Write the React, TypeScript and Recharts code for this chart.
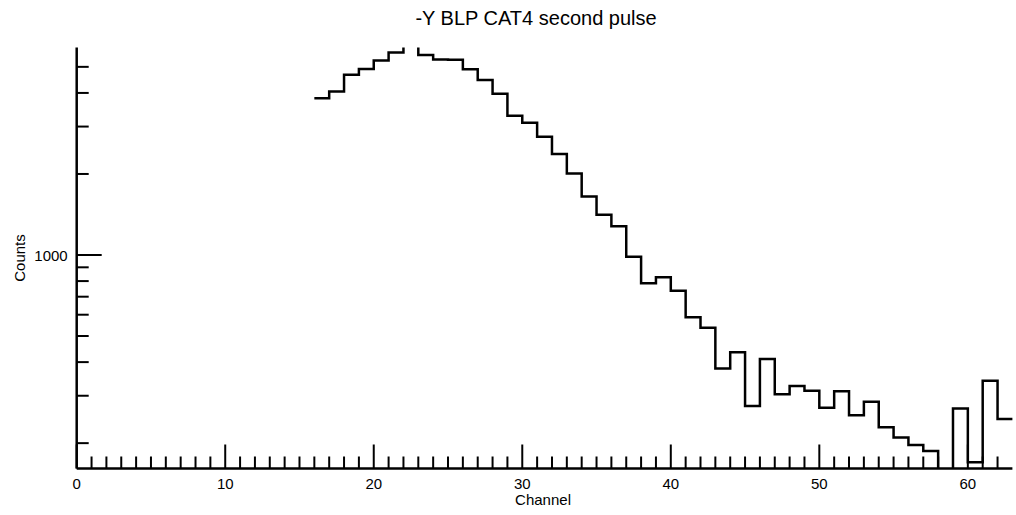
import { LineChart, Line, XAxis, YAxis, Label } from "recharts";

const channels = [
  16, 17, 18, 19, 20, 21, 22, 23, 24, 25, 26, 27, 28, 29, 30, 31,
  32, 33, 34, 35, 36, 37, 38, 39, 40, 41, 42, 43, 44, 45, 46, 47,
  48, 49, 50, 51, 52, 53, 54, 55, 56, 57, 58, 59, 60, 61, 62, 63,
];

// last entry repeats channel 62 so the final step reaches the edge
const counts = [
  3820, 4050, 4670, 4910, 5280, 5650, 6300, 5530, 5330, 5310, 4900, 4470, 3970, 3290, 3100, 2750,
  2370, 2010, 1650, 1410, 1280, 985, 785, 826, 737, 587, 537, 379, 435, 275, 411, 304,
  326, 313, 271, 312, 254, 285, 229, 210, 197, 187, 150, 269, 170, 341, 246, 246,
];

const xTicks = [
  0, 1, 2, 3, 4, 5, 6, 7, 8, 9, 10, 11, 12, 13, 14, 15, 16, 17, 18, 19, 20,
  21, 22, 23, 24, 25, 26, 27, 28, 29, 30, 31, 32, 33, 34, 35, 36, 37, 38, 39, 40,
  41, 42, 43, 44, 45, 46, 47, 48, 49, 50, 51, 52, 53, 54, 55, 56, 57, 58, 59, 60,
  61, 62,
];
const xLabelled = [0, 10, 20, 30, 40, 50, 60];

const yTicks = [200, 300, 400, 500, 600, 700, 800, 900, 1000, 2000, 3000, 4000, 5000];
const yLabelled = [1000];

const data = channels.map((ch, i) => ({ ch, counts: counts[i] }));

const FONT = '"Liberation Sans", Arial, Helvetica, sans-serif';

function XTick(props: any) {
  const { x, y, payload } = props;
  const major = xLabelled.includes(payload.value);
  return (
    <g>
      <line x1={x} x2={x} y1={y} y2={y - (major ? 24 : 12)} stroke="#000" strokeWidth={2} />
      {major && (
        <text x={x} y={y + 20.5} textAnchor="middle" fontSize={15} fontFamily={FONT} fill="#000">
          {payload.value}
        </text>
      )}
    </g>
  );
}

function YTick(props: any) {
  const { x, y, payload } = props;
  const major = yLabelled.includes(payload.value);
  return (
    <g>
      <line x1={x} x2={x + (major ? 25 : 12)} y1={y} y2={y} stroke="#000" strokeWidth={2} />
      {major && (
        <text x={x - 9} y={y + 6} textAnchor="end" fontSize={15} fontFamily={FONT} fill="#000">
          {payload.value}
        </text>
      )}
    </g>
  );
}

export default function App() {
  return (
    <div style={{ position: "absolute", left: 0, top: 0, width: 1016, height: 515, background: "#fff" }}>
      <div
        style={{
          position: "absolute",
          left: 536,
          top: 7,
          transform: "translateX(-50%)",
          fontFamily: FONT,
          fontSize: 20,
          lineHeight: "23px",
          whiteSpace: "nowrap",
          color: "#000",
        }}
      >
        -Y BLP CAT4 second pulse
      </div>
      <LineChart
        width={1016}
        height={515}
        data={data}
        margin={{ top: 47.5, right: 3.6, left: 16.7, bottom: 16.5 }}
      >
        <XAxis
          dataKey="ch"
          type="number"
          domain={[0, 63]}
          ticks={xTicks}
          interval={0}
          tickSize={0}
          tickMargin={0}
          tickLine={false}
          axisLine={{ stroke: "#000", strokeWidth: 2.5 }}
          tick={<XTick />}
          height={30}
        >
          <Label
            content={(p: any) => {
              const vb = p.viewBox;
              return (
                <text x={vb.x + vb.width / 2 - 1.5} y={vb.y + 36.5} textAnchor="middle" fontSize={15} fontFamily={FONT} fill="#000">
                  Channel
                </text>
              );
            }}
          />
        </XAxis>
        <YAxis
          scale="log"
          type="number"
          domain={[161, 5900]}
          allowDataOverflow
          ticks={yTicks}
          interval={0}
          tickSize={0}
          tickMargin={0}
          tickLine={false}
          axisLine={{ stroke: "#000", strokeWidth: 2.5 }}
          tick={<YTick />}
          width={60}
        >
          <Label
            content={(p: any) => {
              const vb = p.viewBox;
              const cy = vb.y + vb.height / 2;
              return (
                <text
                  x={25}
                  y={cy}
                  transform={`rotate(-90, 25, ${cy})`}
                  textAnchor="middle"
                  fontSize={15}
                  fontFamily={FONT}
                  fill="#000"
                >
                  Counts
                </text>
              );
            }}
          />
        </YAxis>
        <Line
          type="stepAfter"
          dataKey="counts"
          stroke="#000"
          strokeWidth={2.5}
          dot={false}
          isAnimationActive={false}
        />
      </LineChart>
    </div>
  );
}
